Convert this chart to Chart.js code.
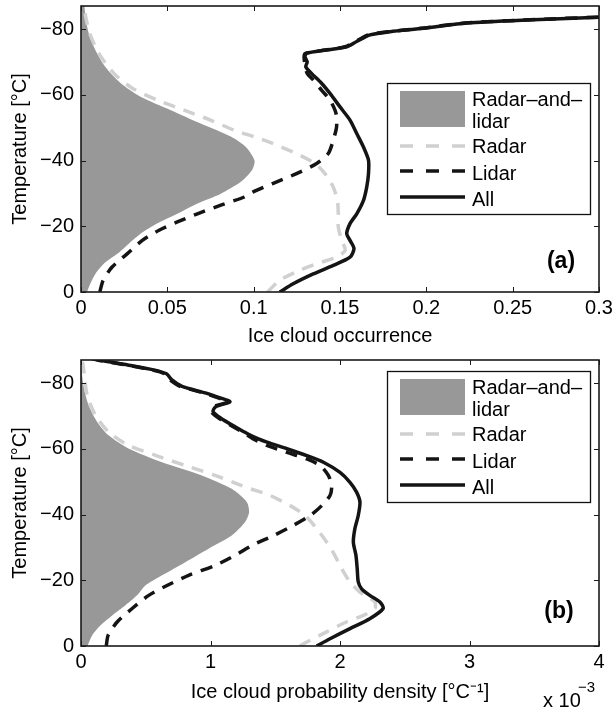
<!DOCTYPE html>
<html>
<head>
<meta charset="utf-8">
<script src="https://cdn.jsdelivr.net/npm/chart.js@4/dist/chart.umd.min.js"></script>
<style>
  html, body { margin: 0; padding: 0; background: #fff; }
  #wrap { position: relative; width: 613px; height: 709px; }
  canvas { position: absolute; left: 0; }
  #chartA { top: 0; }
  #chartB { top: 350px; }
</style>
</head>
<body>
<div id="wrap">
  <canvas id="chartA" width="613" height="350"></canvas>
  <canvas id="chartB" width="613" height="359"></canvas>
</div>
<script>
// legend labels (first one is wrapped on two lines like the original)
const seriesLabels = [["Radar\u2013and\u2013", "lidar"], ["Radar"], ["Lidar"], ["All"]];

// tick values
const tempTicks = [-80, -60, -40, -20, 0];
const occTicks = [0, 0.05, 0.1, 0.15, 0.2, 0.25, 0.3];
const pdfTicks = [0, 1, 2, 3, 4];

// (a) ice cloud occurrence, temperatures in degC
const aBothT = [0, -2.5, -5.5, -8.6, -11.6, -14.7, -17.7, -20.8, -23.8, -26.9, -29.9, -33.5, -37, -40, -44.1, -47.2, -51.3, -55.3, -59.4, -63.5, -68.5, -73.6, -78.7, -83, -87];
const aBoth = [0.0035, 0.0054, 0.0083, 0.0132, 0.021, 0.0277, 0.0345, 0.044, 0.0558, 0.0675, 0.081, 0.0926, 0.099, 0.1005, 0.0955, 0.087, 0.069, 0.052, 0.0345, 0.023, 0.014, 0.0083, 0.0045, 0.0028, 0.002];

const aRadarT = [0, -3.5, -6.6, -8.6, -10.6, -12.7, -15.7, -19.8, -23.8, -27.9, -32, -36, -39.1, -42.1, -45.2, -47.2, -49.2, -52.3, -55.3, -58.4, -62, -66.5, -72.6, -78.7, -83, -87];
const aRadar = [0.108, 0.115, 0.1267, 0.1365, 0.148, 0.153, 0.151, 0.149, 0.149, 0.1485, 0.146, 0.1413, 0.1355, 0.1248, 0.111, 0.1004, 0.0888, 0.075, 0.0597, 0.0442, 0.0297, 0.019, 0.0103, 0.005, 0.003, 0.0017];

const aLidarT = [0, -3.5, -7.6, -11.6, -15.7, -18.8, -21.3, -23.8, -26.4, -28.9, -30.4, -33, -36, -39.1, -42.1, -46.2, -50.2, -54.3, -58.4, -61.4, -64.5, -66.5, -69.1, -71.6, -72.6, -73.6, -74.6, -76.2, -78.2, -79.2, -80.2, -81.8, -82.8, -83.6, -84.3];
const aLidar = [0.0109, 0.0128, 0.018, 0.0267, 0.0355, 0.0452, 0.0558, 0.0674, 0.081, 0.0946, 0.0995, 0.111, 0.1248, 0.1365, 0.1432, 0.1461, 0.148, 0.1477, 0.1442, 0.1393, 0.1345, 0.131, 0.1297, 0.1292, 0.13, 0.1415, 0.153, 0.159, 0.1665, 0.178, 0.197, 0.222, 0.26, 0.299, 0.34];

const aAllT = [0, -2.5, -5.5, -8.1, -10.6, -13.2, -15.7, -17.7, -20.8, -23.8, -27.9, -32, -36, -40.1, -44.1, -48.2, -52.3, -56.3, -60.4, -63.5, -66.5, -68.5, -70, -71.6, -72.6, -73.6, -74.6, -76.2, -78.2, -79.2, -80.2, -81.8, -82.8, -83.6, -84.3];
const aAll = [0.1151, 0.1229, 0.1345, 0.1461, 0.1558, 0.1581, 0.1558, 0.1539, 0.1558, 0.1597, 0.1636, 0.1655, 0.1665, 0.1665, 0.1636, 0.1597, 0.1558, 0.15, 0.1442, 0.1393, 0.1335, 0.1302, 0.131, 0.1297, 0.1306, 0.1422, 0.1539, 0.1597, 0.1674, 0.179, 0.1984, 0.2236, 0.262, 0.3006, 0.34];

// (b) probability density, in units of 1e-3 per degC
const bBothT = [0, -3.3, -6.3, -9.3, -12.4, -15.4, -18.4, -21.5, -25.5, -29.6, -33.6, -37.7, -40.7, -43.8, -47.8, -51.9, -55.9, -60, -64, -68.1, -73.1, -78, -82, -87];
const bBoth = [0.05, 0.087, 0.151, 0.241, 0.344, 0.433, 0.497, 0.626, 0.805, 0.985, 1.164, 1.267, 1.298, 1.28, 1.164, 0.933, 0.626, 0.37, 0.215, 0.126, 0.06, 0.025, 0.01, 0.0];

const bRadarT = [0, -1.2, -4.3, -7.3, -9.3, -11.4, -13.4, -16.4, -19.5, -23.5, -27.6, -31.6, -35.7, -39.7, -42.7, -45.8, -47.8, -48.8, -51.9, -54.9, -58, -61, -65, -70.1, -76.2, -83.3, -87];
const bRadar = [1.69, 1.744, 1.897, 2.05, 2.18, 2.269, 2.269, 2.154, 2.077, 2.013, 1.96, 1.897, 1.82, 1.73, 1.615, 1.46, 1.31, 1.241, 1.036, 0.805, 0.575, 0.37, 0.215, 0.113, 0.048, 0.023, 0.01];

const bLidarT = [0, -3.3, -7.3, -11.4, -15.4, -18.4, -21.5, -24.5, -27.6, -30.6, -33.6, -36.7, -39.7, -42.7, -45.8, -48.8, -51.9, -54.9, -56.9, -58.9, -61, -63, -64.5, -66.7, -69.3, -71.3, -72.8, -74.3, -75.4, -77, -79, -81, -82.8, -84, -85.5, -87, -88];
const bLidar = [0.195, 0.21, 0.279, 0.395, 0.523, 0.664, 0.831, 1.036, 1.19, 1.32, 1.487, 1.64, 1.77, 1.859, 1.923, 1.936, 1.91, 1.846, 1.744, 1.59, 1.436, 1.33, 1.27, 1.175, 1.065, 1.005, 1.025, 1.135, 1.065, 0.945, 0.765, 0.685, 0.645, 0.545, 0.345, 0.125, 0.03];

const bAllT = [0, -2.2, -5.3, -8.3, -11.4, -13.4, -15.4, -17.4, -19.5, -23.5, -27.6, -31.6, -35.7, -39.7, -43.8, -46.8, -49.8, -52.8, -55.9, -57.9, -60, -62, -63, -64.5, -66.7, -69.3, -71.3, -72.8, -74.3, -75.4, -77, -79, -81, -82.8, -84, -85.5, -87, -88];
const bAll = [1.82, 1.923, 2.077, 2.23, 2.333, 2.308, 2.23, 2.167, 2.141, 2.133, 2.123, 2.103, 2.115, 2.141, 2.154, 2.128, 2.077, 2.0, 1.872, 1.744, 1.59, 1.436, 1.37, 1.29, 1.19, 1.08, 1.02, 1.04, 1.15, 1.08, 0.96, 0.78, 0.70, 0.66, 0.56, 0.36, 0.14, 0.04];

const FONT = "'Liberation Sans', Arial, Helvetica, sans-serif";

function pts(xs, ts) {
    return xs.map((v, i) => ({ x: v, y: ts[i] }));
}

// box, inward ticks, legend and panel letter (matlab look)
const framePlugin = {
    id: "frame",
    afterDraw(chart, args, opts) {
        const { ctx, chartArea: a, scales } = chart;
        ctx.save();
        ctx.strokeStyle = "#1a1a1a";
        ctx.lineWidth = 1.6;
        ctx.strokeRect(a.left, a.top, a.right - a.left, a.bottom - a.top);

        ctx.lineWidth = 1;
        ctx.beginPath();
        scales.x.ticks.forEach(t => {
            const px = Math.round(scales.x.getPixelForValue(t.value)) + 0.5;
            ctx.moveTo(px, a.bottom); ctx.lineTo(px, a.bottom - 5);
            ctx.moveTo(px, a.top); ctx.lineTo(px, a.top + 5);
        });
        scales.y.ticks.forEach(t => {
            const py = Math.round(scales.y.getPixelForValue(t.value)) + 0.5;
            ctx.moveTo(a.left, py); ctx.lineTo(a.left + 5, py);
            ctx.moveTo(a.right, py); ctx.lineTo(a.right - 5, py);
        });
        ctx.stroke();

        // legend
        const bw = 203, bh = 131;
        const bx = a.right - 9 - bw, by = a.top + opts.legendTop;
        ctx.fillStyle = "#fff";
        ctx.fillRect(bx, by, bw, bh);
        ctx.strokeStyle = "#111";
        ctx.lineWidth = 1.3;
        ctx.strokeRect(bx + 0.5, by + 0.5, bw, bh);

        const sx0 = bx + 13, sx1 = bx + 78, tx = bx + 85;
        const symY = [0, 63, 88, 114];
        const txtY = [[22.7, 45], [69.5], [96.5], [122.5]];
        ctx.font = "20px " + FONT;
        ctx.textBaseline = "alphabetic";
        ctx.textAlign = "left";
        chart.data.datasets.forEach((ds, i) => {
            if (ds.fill) {
                ctx.fillStyle = ds.backgroundColor;
                ctx.fillRect(sx0, by + 8, sx1 - sx0, 36);
            } else {
                ctx.strokeStyle = ds.borderColor;
                ctx.lineWidth = ds.borderWidth;
                ctx.setLineDash(ds.borderDash ? [13, 13] : []);
                ctx.beginPath();
                ctx.moveTo(sx0, by + symY[i]);
                ctx.lineTo(sx1, by + symY[i]);
                ctx.stroke();
                ctx.setLineDash([]);
            }
            ctx.fillStyle = "#000";
            seriesLabels[i].forEach((line, k) => ctx.fillText(line, tx, by + txtY[i][k]));
        });

        // panel letter
        ctx.font = "bold 23px " + FONT;
        ctx.textAlign = "center";
        ctx.textBaseline = "middle";
        ctx.fillText(opts.letter, a.right - opts.letterDx, a.bottom - opts.letterDy);

        // x 10^-3 multiplier
        if (opts.exponent) {
            ctx.textAlign = "left";
            ctx.textBaseline = "alphabetic";
            ctx.font = "20px " + FONT;
            ctx.fillText("x 10", 543, chart.height - 2.5);
            ctx.font = "15px " + FONT;
            ctx.fillText(opts.exponent, 578, chart.height - 17.5);
        }
        ctx.restore();
    }
};

function makeChart(id, p) {
    const tickFont = { family: FONT, size: 20 };
    return new Chart(document.getElementById(id), {
        type: "line",
        data: {
            datasets: [
                { label: "Radar-and-lidar", data: pts(p.both, p.bothT), fill: "origin",
                  backgroundColor: "#989898", borderColor: "#989898", borderWidth: 0, order: 4, clip: 0 },
                { label: "Radar", data: pts(p.radar, p.radarT), fill: false,
                  borderColor: "#d0d0d0", borderWidth: 3.5, borderDash: [12, 9], order: 3, clip: 0 },
                { label: "Lidar", data: pts(p.lidar, p.lidarT), fill: false,
                  borderColor: "#141414", borderWidth: 3.5, borderDash: [12, 9], order: 2, clip: 0 },
                { label: "All", data: pts(p.all, p.allT), fill: false,
                  borderColor: "#141414", borderWidth: 3.5, order: 1, clip: 0 }
            ]
        },
        options: {
            indexAxis: "y",
            responsive: false,
            animation: false,
            events: [],
            layout: { padding: { top: p.padTop, right: 14, left: 0, bottom: 0 } },
            elements: { point: { radius: 0 }, line: { tension: 0.25 } },
            scales: {
                x: {
                    type: "linear", position: "bottom", min: 0, max: p.xMax,
                    grid: { display: false, drawTicks: false }, border: { display: false },
                    afterBuildTicks: s => { s.ticks = p.xTicks.map(v => ({ value: v })); },
                    afterFit: s => { s.height = p.xAxisH; s.paddingLeft = 0; s.paddingRight = 0; },
                    ticks: { padding: 4, color: "#000", font: tickFont, maxRotation: 0, callback: v => String(v) },
                    title: { display: true, text: p.xTitle, color: "#000", font: tickFont,
                             padding: { top: 0, bottom: p.xTitlePad } }
                },
                y: {
                    type: "linear", position: "left", min: -87, max: 0, reverse: true,
                    grid: { display: false, drawTicks: false }, border: { display: false },
                    afterBuildTicks: s => { s.ticks = tempTicks.map(v => ({ value: v })); },
                    afterFit: s => { s.width = 81; s.paddingTop = 0; s.paddingBottom = 0; },
                    ticks: { padding: 7, color: "#000", font: tickFont,
                             callback: v => String(v).replace("-", "\u2212") },
                    title: { display: true, text: "Temperature [\u00b0C]", color: "#000", font: tickFont,
                             padding: { top: 8, bottom: 0 } }
                }
            },
            plugins: {
                legend: { display: false },
                tooltip: { enabled: false },
                frame: { legendTop: p.legendTop, letter: p.letter, letterDx: p.letterDx,
                         letterDy: p.letterDy, exponent: p.exponent }
            }
        },
        plugins: [framePlugin]
    });
}

makeChart("chartA", {
    bothT: aBothT, both: aBoth, radarT: aRadarT, radar: aRadar,
    lidarT: aLidarT, lidar: aLidar, allT: aAllT, all: aAll,
    xMax: 0.3, xTicks: occTicks, xTitle: "Ice cloud occurrence",
    padTop: 6, xAxisH: 58, xTitlePad: 2,
    legendTop: 77, letter: "(a)", letterDx: 38, letterDy: 30
});

makeChart("chartB", {
    bothT: bBothT, both: bBoth, radarT: bRadarT, radar: bRadar,
    lidarT: bLidarT, lidar: bLidar, allT: bAllT, all: bAll,
    xMax: 4, xTicks: pdfTicks, xTitle: "Ice cloud probability density [\u00b0C\u207b\u00b9]",
    padTop: 10, xAxisH: 63, xTitlePad: 5,
    legendTop: 11, letter: "(b)", letterDx: 40, letterDy: 34, exponent: "\u22123"
});
</script>
</body>
</html>
